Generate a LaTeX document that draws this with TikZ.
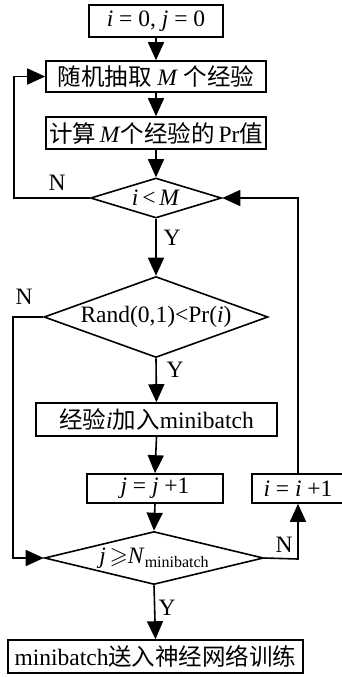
\documentclass[tikz,border=0pt]{standalone}
\usepackage{fontspec}
\usepackage{amssymb}
\setmainfont{Liberation Serif}
\newfontfamily\cjk{Noto Sans CJK SC}
\usetikzlibrary{shapes.geometric,arrows.meta}
\begin{document}
\begin{tikzpicture}[x=0.5pt,y=-0.5pt,
  font=\fontsize{11.75}{13}\selectfont,
  line width=0.8pt,
  box/.style={draw, rectangle, inner sep=0pt},
  dia/.style={draw, diamond, inner sep=0pt},
  arr/.style={-{Triangle[length=9pt,width=8pt]}},
  lab/.style={inner sep=0pt}]
\useasboundingbox (0,0) rectangle (342,677);
\node[box,minimum width=67pt,minimum height=16pt] (b1) at (156,21) {\textit{i} = 0, \textit{j} = 0};
\node[box,minimum width=110pt,minimum height=15.5pt] (b2) at (156,76.5) {{\cjk 随机抽取} \textit{M} {\cjk 个经验}};
\node[box,minimum width=110pt,minimum height=16pt] (b3) at (156,133) {{\cjk 计算}\,\textit{M}{\cjk 个经验的}\,Pr{\cjk 值}};
\node[dia,minimum width=65.5pt,minimum height=20pt] (d1) at (156,198) {\makebox[0pt]{\textit{i}\,<\,\textit{M}}};
\node[dia,minimum width=112pt,minimum height=40.5pt] (d2) at (156,317) {\makebox[0pt]{Rand(0,1)<Pr(\textit{i})}};
\node[box,minimum width=120.5pt,minimum height=16.5pt] (b4) at (156.5,419.5) {{\cjk 经验}\textit{i}{\cjk 加入}minibatch};
\node[box,minimum width=68pt,minimum height=14.5pt] (b5) at (155,488.5) {\textit{j} = \textit{j} +1};
\node[box,minimum width=46pt,minimum height=14.5pt] (b6) at (298,488.5) {\textit{i} = \textit{i} +1};
\node[dia,minimum width=109.5pt,minimum height=26.5pt] (d3) at (154,558) {\makebox[0pt]{\textit{j}\,$\geqslant$\textit{N}\raisebox{-0.4ex}{\fontsize{8}{8}\selectfont minibatch}}};
\node[box,minimum width=147.5pt,minimum height=16.5pt] (b7) at (155.5,656.5) {minibatch{\cjk 送入神经网络训练}};
\coordinate (c1) at (14,198);
\coordinate (c2) at (13,317);
\coordinate (c3) at (298,559);
\coordinate (c4) at (298,198);
\draw[arr] (b1.south) -- (b2.north);
\draw[arr] (b2.south) -- (b3.north);
\draw[arr] (b3.south) -- (d1.north);
\draw[arr] (d1.west) -- (c1) |- (b2.west);
\draw[arr] (d1.south) -- (d2.north);
\draw[arr] (d2.south) -- (b4.north);
\draw[arr] (d2.west) -- (c2) |- (d3.west);
\draw[arr] (b4.south) -- (b5.north);
\draw[arr] (b5.south) -- (d3.north);
\draw[arr] (d3.east) -- (c3) -- (b6.south);
\draw[arr] (b6.north) -- (c4) -- (d1.east);
\draw[arr] (d3.south) -- (b7.north);
\node[lab] (n1) at (57,183) {N};
\node[lab] (y1) at (172,238) {Y};
\node[lab] (n2) at (24,297) {N};
\node[lab] (y2) at (175,370) {Y};
\node[lab] (n3) at (284,545) {N};
\node[lab] (y3) at (167,608) {Y};
\end{tikzpicture}
\end{document}
